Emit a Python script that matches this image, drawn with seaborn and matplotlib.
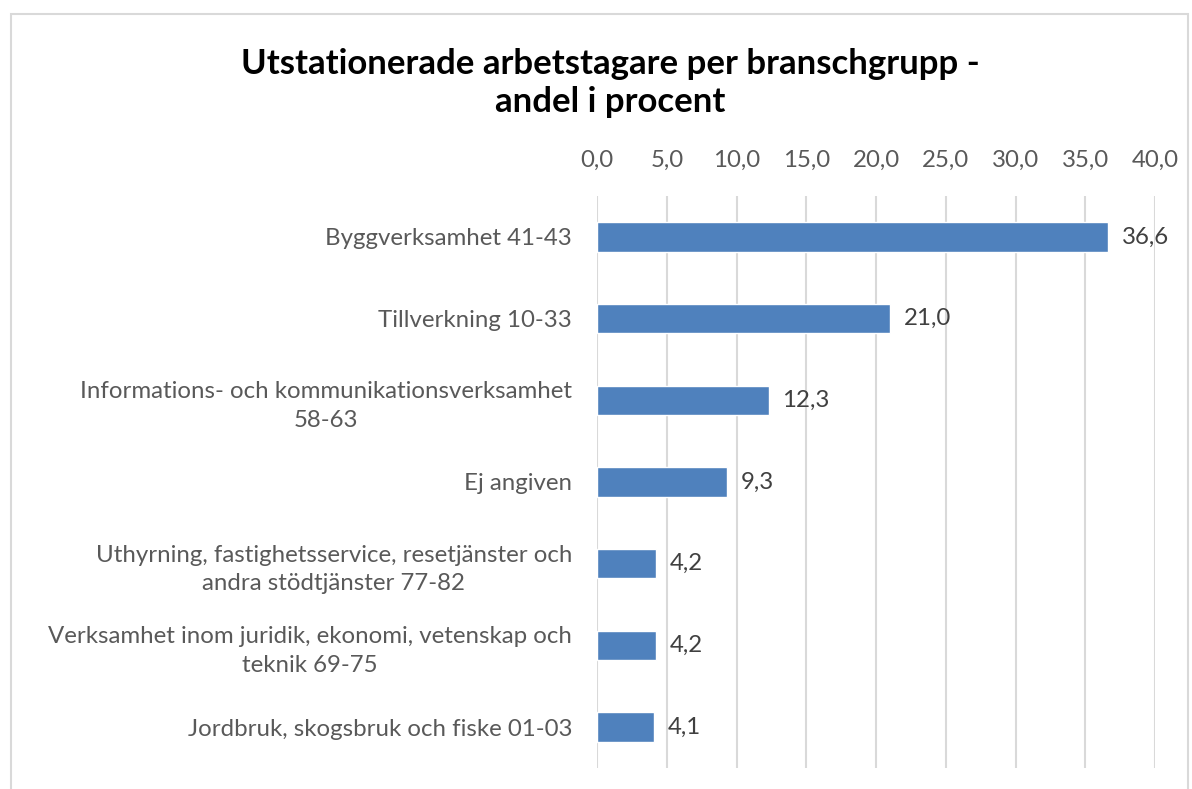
import matplotlib
matplotlib.use("Agg")
import matplotlib.pyplot as plt
import seaborn as sns
import pandas as pd
from matplotlib.patches import Rectangle

categories = [
    "Byggverksamhet 41-43",
    "Tillverkning 10-33",
    "Informations- och kommunikationsverksamhet\n58-63",
    "Ej angiven",
    "Uthyrning, fastighetsservice, resetjänster och\nandra stödtjänster 77-82",
    "Verksamhet inom juridik, ekonomi, vetenskap och\nteknik 69-75",
    "Jordbruk, skogsbruk och fiske 01-03",
]
values = [36.6, 21.0, 12.3, 9.3, 4.2, 4.2, 4.1]
xticks = [0, 5, 10, 15, 20, 25, 30, 35, 40]
title = "Utstationerade arbetstagare per branschgrupp -\nandel i procent"

sns.set_theme(style="white")
plt.rcParams["font.family"] = ["Lato", "DejaVu Sans"]

text_color = "#595959"
bar_color = "#4F81BD"
grid_color = "#D9D9D9"

df = pd.DataFrame({"kategori": categories, "andel": values})

fig = plt.figure(figsize=(11.92, 7.89), dpi=100)
ax = fig.add_axes([597 / 1192, 1 - 768 / 789, (1155 - 597) / 1192, (768 - 196) / 789])

sns.barplot(data=df, y="kategori", x="andel", orient="h", color=bar_color,
            width=0.36, saturation=1, ax=ax)

ax.set_xlim(0, 40)
ax.set_xticks(xticks)
ax.set_xticklabels([f"{t:.1f}".replace(".", ",") for t in xticks])
ax.xaxis.tick_top()
ax.set_xlabel("")
ax.set_ylabel("")
ax.tick_params(axis="x", length=0, pad=18, labelsize=17.3, labelcolor=text_color)
ax.tick_params(axis="y", length=0, pad=18, labelsize=17.3, labelcolor=text_color)
for lbl in ax.get_yticklabels():
    lbl.set_horizontalalignment("right")
    lbl.set_multialignment("center")
    lbl.set_linespacing(1.45)

ax.grid(axis="x", color=grid_color, linewidth=1.5)
ax.set_axisbelow(True)
for s in ax.spines.values():
    s.set_visible(False)

for c in ax.containers:
    ax.bar_label(c, labels=[f"{v:.1f}".replace(".", ",") for v in values],
                 padding=10, fontsize=17.3, color="#404040")

fig.text(610 / 1192, 1 - 83 / 789, title, ha="center", va="center",
         fontsize=25, fontweight="bold", color="black", linespacing=1.2)

fig.patches.append(Rectangle((11 / 1192, -0.01), (1188 - 11) / 1192, 1 - 14 / 789 + 0.01,
                             transform=fig.transFigure, fill=False,
                             edgecolor=grid_color, linewidth=1.5))

fig.savefig("out.png", dpi=100)
